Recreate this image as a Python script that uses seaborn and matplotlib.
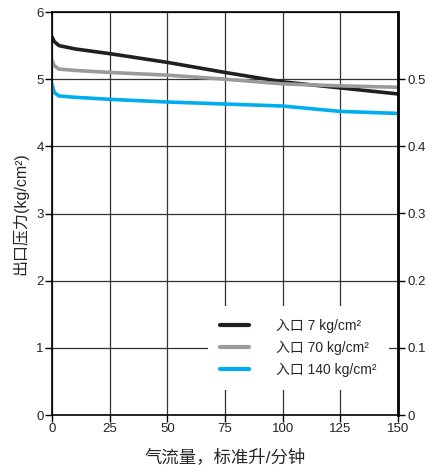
import matplotlib
matplotlib.use("Agg")
import matplotlib.pyplot as plt
import seaborn as sns
import pandas as pd

sns.set_theme(style="white")
plt.rcParams['font.family'] = ['Liberation Sans', 'Noto Sans CJK SC', 'DejaVu Sans']

flow = [0, 1, 3, 10, 25, 50, 75, 100, 125, 150]
p7 = [5.63, 5.56, 5.50, 5.45, 5.38, 5.25, 5.10, 4.96, 4.87, 4.78]
p70 = [5.28, 5.20, 5.15, 5.13, 5.10, 5.06, 5.00, 4.93, 4.90, 4.88]
p140 = [4.92, 4.80, 4.75, 4.73, 4.70, 4.66, 4.63, 4.60, 4.52, 4.49]
labels = ["入口 7 kg/cm²", "入口 70 kg/cm²", "入口 140 kg/cm²"]
colors = ["#231f20", "#9a9a9c", "#00aeef"]
xticks = [0, 25, 50, 75, 100, 125, 150]
yticks = [0, 1, 2, 3, 4, 5, 6]
rticks = [0, 0.1, 0.2, 0.3, 0.4, 0.5]

df = pd.concat([
    pd.DataFrame({"flow": flow, "p": vals, "s": lab})
    for vals, lab in zip([p7, p70, p140], labels)
])

fig = plt.figure(figsize=(4.28, 4.65), dpi=100)
ax = fig.add_axes([52/428, 50/465, 346/428, 403/465])
sns.lineplot(data=df, x="flow", y="p", hue="s", palette=colors, linewidth=2.6,
             ax=ax, legend=True)
ax.set_xlim(0, 150)
ax.set_ylim(0, 6)
ax.set_xticks(xticks)
ax.set_yticks(yticks)
ax.grid(True, color="#333333", linewidth=0.9)
for s in ax.spines.values():
    s.set_color("black")
    s.set_linewidth(1.2)
ax.spines["right"].set_linewidth(2)
ax.tick_params(axis="both", direction="out", length=5, width=1, color="black",
               labelsize=9.5, pad=1, left=True, bottom=True, labelcolor="#222222")
ax.set_xlabel("气流量，标准升/分钟", fontsize=12.5, labelpad=9)
ax.set_ylabel("出口压力(kg/cm²)", fontsize=11.5, labelpad=6)

ax2 = ax.twinx()
ax2.set_ylim(0, 0.6)
ax2.set_yticks(rticks)
ax2.set_yticklabels(["0", "0.1", "0.2", "0.3", "0.4", "0.5"])
ax2.tick_params(axis="y", direction="out", length=5, width=1, color="black",
                labelsize=9.5, pad=2, right=True, labelcolor="#222222")
for s in ax2.spines.values():
    s.set_visible(False)

leg = ax.legend(loc="upper left", bbox_to_anchor=(0.45, 0.27), frameon=True,
                facecolor="white", edgecolor="none", framealpha=1.0, fancybox=False,
                borderpad=0.9, borderaxespad=0.0,
                fontsize=10, handlelength=2.1, handletextpad=1.9, labelspacing=0.55)
for line in leg.get_lines():
    line.set_linewidth(3)

fig.savefig("out.png", dpi=100)
